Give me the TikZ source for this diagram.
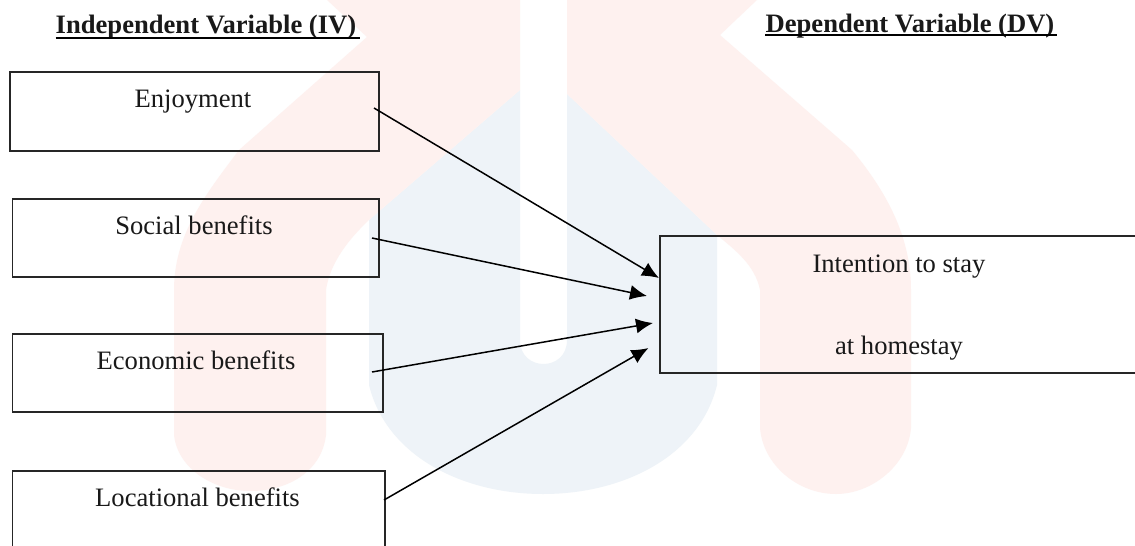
\documentclass[tikz,border=0pt]{standalone}
\usepackage{fontspec}
\setmainfont{Liberation Serif}
\usetikzlibrary{arrows.meta}
\definecolor{wmred}{HTML}{FEF1EF}
\definecolor{wmblue}{HTML}{EEF3F8}
\tikzset{
  x=1pt,y=-1pt,
  wbox/.style={draw=black!85,line width=1.5pt,fill=none,inner sep=0pt,anchor=north west},
  lbl/.style={font=\fontsize{26.6}{30}\selectfont,text=black!90,inner sep=0pt,anchor=base},
  head/.style={font=\fontsize{26.6}{30}\selectfont\bfseries,text=black!90,inner sep=0pt,anchor=base},
  link/.style={draw=black,line width=1.5pt,-{Latex[length=17pt,width=15pt]}},
  uline/.style={draw=black,line width=2pt},
}
\begin{document}
\begin{tikzpicture}
\useasboundingbox (0,0) rectangle (1135,546);
\fill[white] (0,0) rectangle (1135,546);
% watermark
\fill[wmblue] (369,220) -- (520,90) -- (520,340) .. controls (520,372) and (567,372) .. (567,340) -- (567,94) -- (717,235) -- (717,385) .. controls (700,455) and (625,494) .. (543,494) .. controls (461,494) and (386,455) .. (369,385) -- cycle;
\fill[wmred] (327,0) -- (367,37) -- (239,150) .. controls (205,195) and (174,235) .. (174,290) -- (174,435) .. controls (178,470) and (215,491) .. (250,491) .. controls (290,491) and (322,470) .. (326,435) -- (326,290) .. controls (330,262) and (350,238) .. (369,220) -- (520,90) -- (520,0) -- cycle;
\fill[wmred] (757,0) -- (720,35) -- (852,150) .. controls (885,190) and (911,235) .. (911,290) -- (911,428) .. controls (908,465) and (872,494) .. (836,494) .. controls (798,494) and (763,465) .. (760,428) -- (760,290) .. controls (755,265) and (735,250) .. (717,235) -- (567,94) -- (567,0) -- cycle;
\begin{scope}
\clip (0,0) rectangle (1135,546);
\node[wbox,minimum width=369pt,minimum height=79pt] (enj) at (9,71) {};
\node[wbox,minimum width=366.5pt,minimum height=78pt] (soc) at (11.5,198) {};
\node[wbox,minimum width=370.5pt,minimum height=78pt] (eco) at (11.5,333) {};
\node[wbox,minimum width=372.5pt,minimum height=90pt] (loc) at (11.5,470) {};
\node[wbox,minimum width=490pt,minimum height=137pt] (dv) at (659,235) {};
\end{scope}
% texts
\node[head] (ivh) at (206,33) {Independent Variable (IV)};
\node[head] (dvh) at (910,32) {Dependent Variable (DV)};
\draw[uline] (ivh.base west) ++(0,4.5) -- ++(304,0);
\draw[uline] (dvh.base west) ++(0,3) -- ++(292,0);
\node[lbl] (t1) at (193,107) {Enjoyment};
\node[lbl] (t2) at (194,234) {Social benefits};
\node[lbl] (t3) at (196,369) {Economic benefits};
\node[lbl] (t4) at (197.5,506) {Locational benefits};
\node[lbl] (t5) at (899,272) {Intention to stay};
\node[lbl] (t6) at (899,354) {at homestay};
% connector ends
\coordinate (o1) at (374,108);
\coordinate (o2) at (372,238);
\coordinate (o3) at (372,372);
\coordinate (o4) at (384,500);
\coordinate (i1) at (659,278);
\coordinate (i2) at (647,296);
\coordinate (i3) at (653,323);
\coordinate (i4) at (648.5,348);
\draw[link] (o1) -- (i1);
\draw[link] (o2) -- (i2);
\draw[link] (o3) -- (i3);
\draw[link] (o4) -- (i4);
\end{tikzpicture}
\end{document}
